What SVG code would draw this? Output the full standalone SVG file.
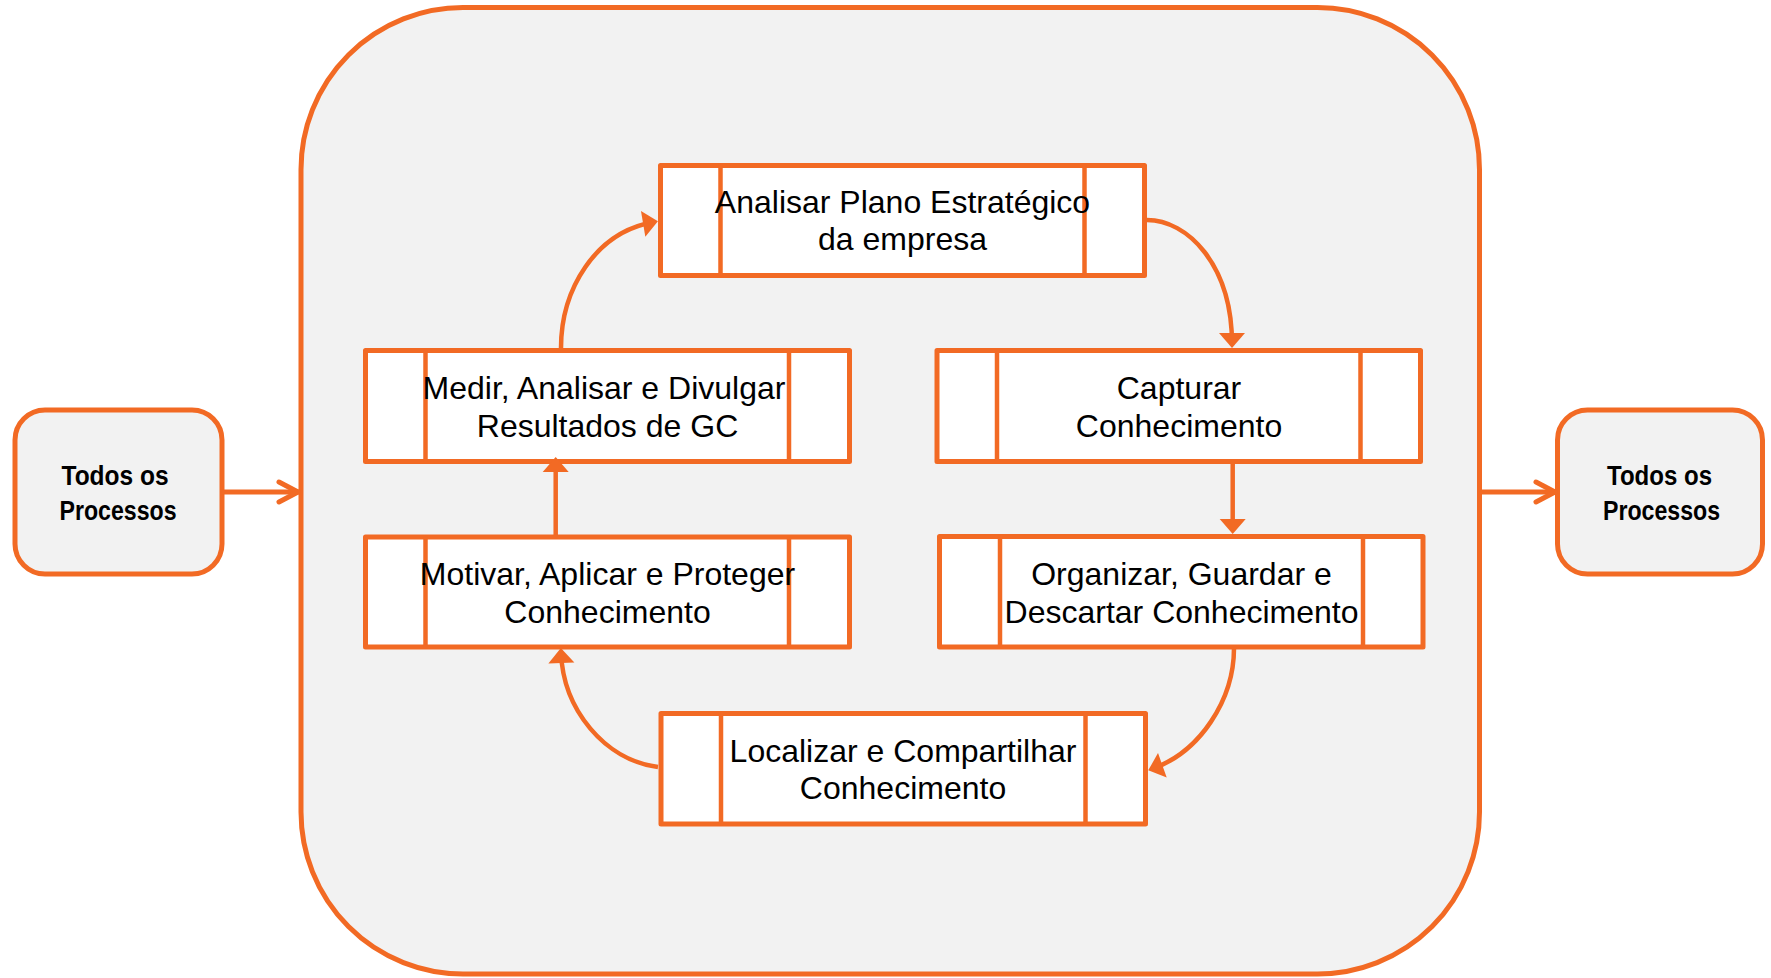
<svg xmlns="http://www.w3.org/2000/svg" width="1771" height="978" viewBox="0 0 1771 978">
<style>
.frame{fill:#F2F2F2;stroke:#F26A24;stroke-width:5}
.box{fill:#FFFFFF;stroke:#F26A24;stroke-width:5;stroke-linejoin:round}
.bar{stroke:#F26A24;stroke-width:4.5}
.lbl{font-family:"Liberation Sans",Arial,sans-serif;font-size:32px;fill:#000;text-anchor:middle}
.side{font-family:"Liberation Sans",Arial,sans-serif;font-weight:bold;font-size:27px;fill:#000;text-anchor:middle}
.conn{fill:none;stroke:#F26A24;stroke-width:4.5}
.open{fill:none;stroke:#F26A24;stroke-width:5;stroke-linecap:round}
</style>
<defs>
<marker id="tri" markerUnits="userSpaceOnUse" markerWidth="16" markerHeight="28" refX="11" refY="13" orient="auto" overflow="visible">
<path d="M0,0 L15,13 L0,26 Z" fill="#F26A24"/>
</marker>
<marker id="chev" markerUnits="userSpaceOnUse" markerWidth="22" markerHeight="24" refX="0" refY="0" orient="auto" overflow="visible">
<path d="M-19,-10 L0,0 L-19,10" fill="none" stroke="#F26A24" stroke-width="5" stroke-linecap="round" stroke-linejoin="round"/>
</marker>
</defs>

<g id="container">
<rect class="frame" x="301" y="7.5" width="1178.5" height="966.5" rx="162" ry="162"/>
</g>

<g id="in-processes">
<rect class="frame" x="15" y="410" width="207" height="164" rx="30" ry="30"/>
<text class="side" x="115" y="485" textLength="107" lengthAdjust="spacingAndGlyphs">Todos os</text>
<text class="side" x="118" y="520" textLength="117" lengthAdjust="spacingAndGlyphs">Processos</text>
</g>

<g id="out-processes">
<rect class="frame" x="1557.5" y="410" width="205" height="164" rx="30" ry="30"/>
<text class="side" x="1659.5" y="485" textLength="105" lengthAdjust="spacingAndGlyphs">Todos os</text>
<text class="side" x="1661.5" y="520" textLength="117" lengthAdjust="spacingAndGlyphs">Processos</text>
</g>

<g id="analisar">
<rect class="box" x="660.5" y="165.5" width="484" height="110"/>
<line class="bar" x1="720.5" y1="165.5" x2="720.5" y2="275.5"/>
<line class="bar" x1="1084.5" y1="165.5" x2="1084.5" y2="275.5"/>
<text class="lbl" x="902.5" y="213">Analisar Plano Estratégico</text>
<text class="lbl" x="902.5" y="250">da empresa</text>
</g>

<g id="medir">
<rect class="box" x="365.5" y="350.5" width="484" height="111"/>
<line class="bar" x1="425.5" y1="350.5" x2="425.5" y2="461.5"/>
<line class="bar" x1="789" y1="350.5" x2="789" y2="461.5"/>
<text class="lbl" x="604" y="399">Medir, Analisar e Divulgar</text>
<text class="lbl" x="607.5" y="437">Resultados de GC</text>
</g>

<g id="capturar">
<rect class="box" x="937" y="350.5" width="483.5" height="111"/>
<line class="bar" x1="997" y1="350.5" x2="997" y2="461.5"/>
<line class="bar" x1="1360.5" y1="350.5" x2="1360.5" y2="461.5"/>
<text class="lbl" x="1179" y="399">Capturar</text>
<text class="lbl" x="1179" y="437">Conhecimento</text>
</g>

<g id="motivar">
<rect class="box" x="365.5" y="537" width="484" height="110"/>
<line class="bar" x1="425.5" y1="537" x2="425.5" y2="647"/>
<line class="bar" x1="789" y1="537" x2="789" y2="647"/>
<text class="lbl" x="607.5" y="585">Motivar, Aplicar e Proteger</text>
<text class="lbl" x="607.5" y="623">Conhecimento</text>
</g>

<g id="organizar">
<rect class="box" x="939.5" y="536.5" width="483.5" height="110.5"/>
<line class="bar" x1="1000" y1="536.5" x2="1000" y2="647"/>
<line class="bar" x1="1363" y1="536.5" x2="1363" y2="647"/>
<text class="lbl" x="1181.5" y="585">Organizar, Guardar e</text>
<text class="lbl" x="1181.5" y="623">Descartar Conhecimento</text>
</g>

<g id="localizar">
<rect class="box" x="661" y="713.5" width="484.5" height="110.5"/>
<line class="bar" x1="721" y1="713.5" x2="721" y2="824"/>
<line class="bar" x1="1085.5" y1="713.5" x2="1085.5" y2="824"/>
<text class="lbl" x="903" y="762">Localizar e Compartilhar</text>
<text class="lbl" x="903" y="799">Conhecimento</text>
</g>

<g id="connectors">
<path class="open" d="M224,492 L298,492" marker-end="url(#chev)"/>
<path class="open" d="M1482,492 L1555,492" marker-end="url(#chev)"/>
<path class="conn" d="M561,348 C561,290 595,232 654,222" marker-end="url(#tri)"/>
<path class="conn" d="M1147,220 C1187,220 1232,264 1232,344" marker-end="url(#tri)"/>
<path class="conn" d="M1232.7,462 L1232.7,530" marker-end="url(#tri)"/>
<path class="conn" d="M1234,648 C1234,700 1200,752 1152,769" marker-end="url(#tri)"/>
<path class="conn" d="M658,767 C605,760 563,710 561,652" marker-end="url(#tri)"/>
<path class="conn" d="M555.7,537 L555.7,461" marker-end="url(#tri)"/>
</g>
</svg>
